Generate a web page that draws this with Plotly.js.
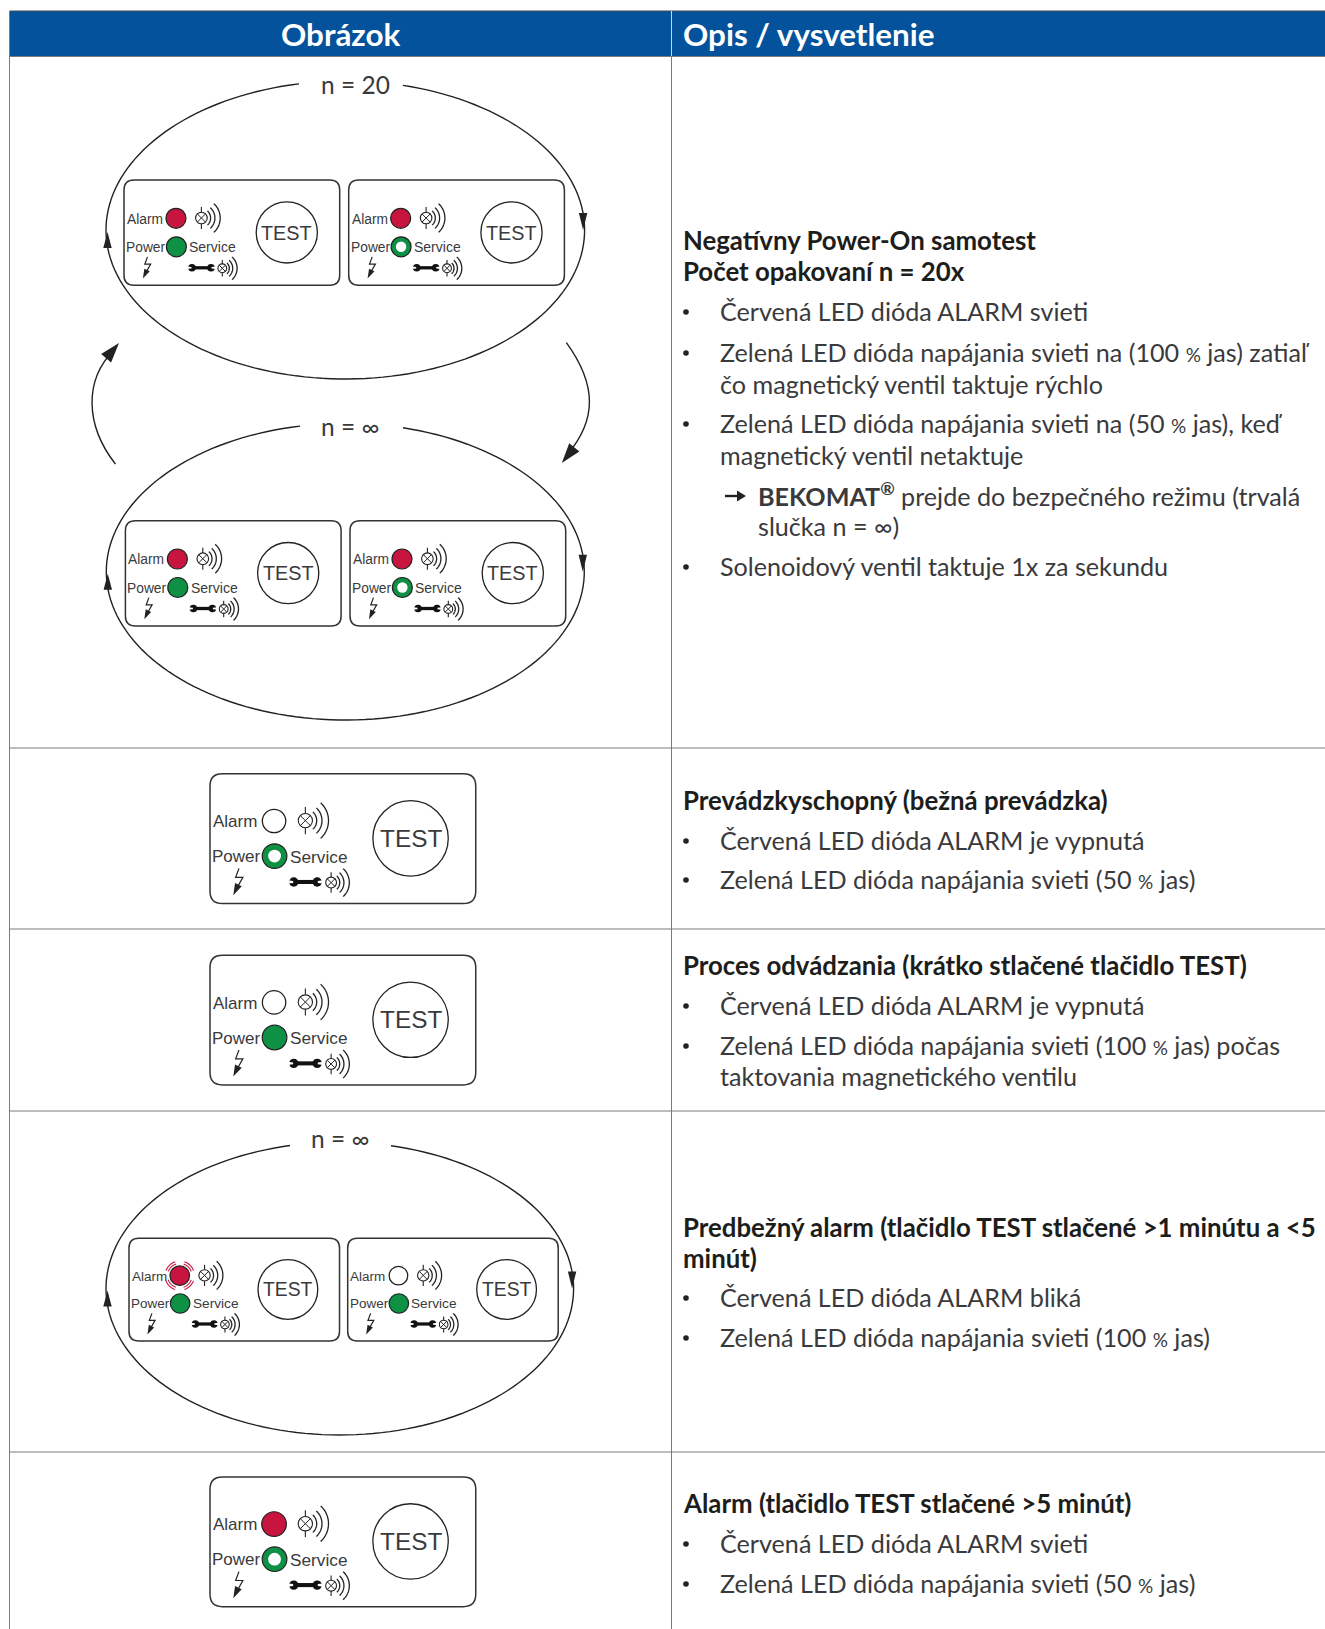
<!DOCTYPE html>
<html><head><meta charset="utf-8">
<script src="https://cdn.plot.ly/plotly-3.0.1.min.js"></script>
<style>html,body{margin:0;padding:0;background:#fff}#c{width:1325px;height:1629px}</style>
</head><body><div id="c"></div>
<script>
// ---- content ----
const headerLabels = ['Obrázok', 'Opis / vysvetlenie'];
const loopLabels = ['n = 20', 'n = ∞', 'n = ∞'];
const headingLines = [
  'Negatívny Power-On samotest', 'Počet opakovaní n = 20x',
  'Prevádzkyschopný (bežná prevádzka)',
  'Proces odvádzania (krátko stlačené tlačidlo TEST)',
  'Predbežný alarm (tlačidlo TEST stlačené &gt;1 minútu a &lt;5', 'minút)',
  'Alarm (tlačidlo TEST stlačené &gt;5 minút)'
];
const PCT = '<span style="font-size:19px">%</span>';
const bodyLines = [
  'Červená LED dióda ALARM svieti',
  'Zelená LED dióda napájania svieti na (100 ' + PCT + ' jas) zatiaľ',
  'čo magnetický ventil taktuje rýchlo',
  'Zelená LED dióda napájania svieti na (50 ' + PCT + ' jas), keď',
  'magnetický ventil netaktuje',
  '<b>BEKOMAT<sup>®</sup></b> prejde do bezpečného režimu (trvalá',
  'slučka n = ∞)',
  'Solenoidový ventil taktuje 1x za sekundu',
  'Červená LED dióda ALARM je vypnutá',
  'Zelená LED dióda napájania svieti (50 ' + PCT + ' jas)',
  'Červená LED dióda ALARM je vypnutá',
  'Zelená LED dióda napájania svieti (100 ' + PCT + ' jas) počas',
  'taktovania magnetického ventilu',
  'Červená LED dióda ALARM bliká',
  'Zelená LED dióda napájania svieti (100 ' + PCT + ' jas)',
  'Červená LED dióda ALARM svieti',
  'Zelená LED dióda napájania svieti (50 ' + PCT + ' jas)'
];
const bodyKinds = ['b','b','c','b','c','a','d','b','b','b','b','b','c','b','b','b','b'];
const alarmStates = ['on','on','on','on','off','off','blink','off','on'];
const powerStates = ['full','half','full','half','half','full','full','full','half'];

// ---- layout (pixels of the 1325x1629 picture) ----
const headingY = [240,271,800,965,1227,1258,1503];
const bodyY = [312,353,385,424,456,496,527,567,841,880,1006,1046,1077,1298,1338,1544,1584];
const rowLinesY = [748,929,1111,1452];
const colX = 671.5, leftX = 9.5, H0 = 11, H1 = 56.5;
const panelX = [124,348.7,125.4,350,210,210,129,347.7,210];
const panelY = [180,180,520.7,520.7,773.8,955.2,1238.3,1238.3,1476.9];
const panelS = [1,1,1,1,1.232,1.232,0.976,0.976,1.232];
const loops = [
  {cx:345.3,cy:230,rx:239.3,ry:149,gap:[299,403],lx:321,ly:84},
  {cx:345.3,cy:571.7,rx:239,ry:148.3,gap:[300,403],lx:321,ly:426},
  {cx:339.8,cy:1288.6,rx:233.8,ry:146.4,gap:[290,391],lx:310.5,ly:1138}
];

const INK='#222222', TXT='#3a3a3c', RED='#c8153f', GREEN='#0e9144', GRID='#7b7b7b', BLUE='#03529b';
const shapes=[], notes=[];
const line=(d,w,c)=>({type:'path',path:d,xref:'x',yref:'y',line:{color:c||INK,width:w},layer:'above'});
const fillP=(d,c)=>({type:'path',path:d,xref:'x',yref:'y',fillcolor:c||INK,line:{width:0},layer:'above'});
const circ=(x,y,r,fill,w,c)=>({type:'circle',xref:'x',yref:'y',x0:x-r,x1:x+r,y0:y-r,y1:y+r,fillcolor:fill||'rgba(0,0,0,0)',line:{color:c||INK,width:w},layer:'above'});
const text=(x,y,t,size,fam,col,anchor)=>notes.push({x,y,text:t,xref:'x',yref:'y',showarrow:false,xanchor:anchor||'left',yanchor:'middle',align:'left',font:{size,family:fam,color:col||TXT},borderpad:0,borderwidth:0});
function arcPath(cx,cy,rx,ry,a0,a1,n){let d='';for(let i=0;i<=n;i++){const a=a0+(a1-a0)*i/n;d+=(i?'L ':'M ')+(cx+rx*Math.cos(a)).toFixed(2)+' '+(cy+ry*Math.sin(a)).toFixed(2)+' ';}return d;}
function arrowHead(tx,ty,fx,fy,len,hw){const dx=tx-fx,dy=ty-fy,m=Math.hypot(dx,dy),ux=dx/m,uy=dy/m;const bx=tx-ux*len,by=ty-uy*len;
  return `M ${tx} ${ty} L ${bx-uy*hw} ${by+ux*hw} L ${bx+uy*hw} ${by-ux*hw} Z`;}

// table
shapes.push({type:'rect',xref:'x',yref:'y',x0:leftX,x1:1325,y0:H0,y1:H1,fillcolor:BLUE,line:{width:0},layer:'below'});
shapes.push(line(`M ${leftX} ${H0} L 1325 ${H0}`,1,'#4a4a4a'));
shapes.push(line(`M ${leftX} ${H0} L ${leftX} 1629`,1,GRID));
shapes.push(line(`M ${colX} ${H1} L ${colX} 1629`,1,GRID));
shapes.push(line(`M ${colX} ${H0} L ${colX} ${H1}`,1,'#c7d6e6'));
shapes.push(line(`M ${leftX} ${H1} L 1325 ${H1}`,1,GRID));
rowLinesY.forEach(y=>shapes.push(line(`M ${leftX} ${y} L 1325 ${y}`,1,GRID)));
text(341,33.5,'<b>'+headerLabels[0]+'</b>',31.4,'Lato','#fff','center');
text(682.5,33.5,'<b>'+headerLabels[1]+'</b>',31.4,'Lato','#fff');

// right-hand text
headingLines.forEach((t,i)=>text(682.5,headingY[i],'<b>'+t+'</b>',25.8,'Lato','#1d1d1b'));
bodyLines.forEach((t,i)=>{
  const k=bodyKinds[i],y=bodyY[i];
  if(k==='b'){shapes.push(circ(686,y,2.8,'#222',0,'#222'));}
  if(k==='a'){shapes.push(line(`M 725 ${y} L 740 ${y}`,2.4,'#222'));shapes.push(fillP(`M 746 ${y} L 737 ${y-5.5} L 737 ${y+5.5} Z`,'#222'));}
  text(k==='b'||k==='c'?720:757.5,k==='a'?y-2:y-1,t,25.15,'Lato',TXT);
});

// loops
loops.forEach((l,i)=>{
  const a=Math.acos((l.gap[0]-l.cx)/l.rx), b=Math.acos((l.gap[1]-l.cx)/l.rx);
  // from the right end of the gap, clockwise round to its left end
  shapes.push(line(arcPath(l.cx,l.cy,l.rx,l.ry,-b,2*Math.PI-a,160),1.4));
  text(l.lx,l.ly,loopLabels[i],24.5,'Lato',TXT);
  const xr=l.cx+l.rx-1.5, xl=l.cx-l.rx+1.5;
  shapes.push(fillP(`M ${xr} ${l.cy} L ${xr-4.2} ${l.cy-17} L ${xr+4.2} ${l.cy-17} Z`));
  shapes.push(fillP(`M ${xl} ${l.cy+2} L ${xl-4.2} ${l.cy+18} L ${xl+4.2} ${l.cy+18} Z`));
});
// side arrows between the two loops
shapes.push(line('M 115.4 464 C 85 425 84 380 114 350',1.4));
shapes.push(fillP(arrowHead(119,343,103,362,20,6.5)));
shapes.push(line('M 566.4 342.7 C 597 385 597 420 567 455',1.4));
shapes.push(fillP(arrowHead(561.8,463,577,444,20,6.5)));

// one control-panel drawing
function lamp(x,y,r,vl,s,arcs){
  shapes.push(circ(x,y,r,'#fff',1.1));
  const d=r*0.7;
  shapes.push(line(`M ${x-d} ${y-d} L ${x+d} ${y+d} M ${x-d} ${y+d} L ${x+d} ${y-d}`,1));
  shapes.push(line(`M ${x} ${y-vl} L ${x} ${y-r} M ${x} ${y+r} L ${x} ${y+vl}`,1.1));
  arcs.forEach(q=>shapes.push(line(arcPath(x,y,q*s,q*s*1.02,-0.85,0.85,20),1.3)));
}
function panel(i){
  const X=panelX[i],Y=panelY[i],s=panelS[i];
  const px=v=>X+v*s, py=v=>Y+v*s;
  const W=215.7*s,H=105.3*s,R=10*s;
  shapes.push(line(`M ${X+R} ${Y} L ${X+W-R} ${Y} Q ${X+W} ${Y} ${X+W} ${Y+R} L ${X+W} ${Y+H-R} Q ${X+W} ${Y+H} ${X+W-R} ${Y+H} L ${X+R} ${Y+H} Q ${X} ${Y+H} ${X} ${Y+H-R} L ${X} ${Y+R} Q ${X} ${Y} ${X+R} ${Y} Z`,1.5,'#333'));
  const fam='Liberation Sans';
  text(px(2.8),py(39),'Alarm',13.8*s,fam);
  text(px(2),py(67.3),'Power',13.8*s,fam);
  text(px(65.3),py(67.3),'Service',14*s,fam);
  text(px(162.8),py(52.5),'TEST',19.8*s,fam,TXT,'center');
  shapes.push(circ(px(162.8),py(52.4),30.6*s,'rgba(0,0,0,0)',1.3));
  // alarm LED
  const ax=px(52),ay=py(38.3),lr=10*s;
  const st=alarmStates[i];
  if(st==='off') shapes.push(circ(ax,ay,lr*0.95,'#fff',1.3));
  else shapes.push(circ(ax,ay,lr,RED,1.2));
  if(st==='blink'){
    [12.5,15].forEach(r=>{[[-1.25,-0.35],[0.35,1.25],[1.9,2.8],[3.5,4.4]].forEach(g=>{
      shapes.push(line(arcPath(ax,ay,r*s,r*s,g[0],g[1],10),1.1,RED));});});
  }
  // power LED
  const pw=powerStates[i],gx=px(52.4),gy=py(66.8);
  shapes.push(circ(gx,gy,lr,GREEN,1.2));
  if(pw==='half') shapes.push(circ(gx,gy,lr*0.52,'#fff',0,'#fff'));
  // lamps
  lamp(px(77.4),py(38),5.8*s,11*s,s,[9.2,13.5,18.8]);
  lamp(px(98.3),py(88.3),4.4*s,8.3*s,s,[7,10.4,14.8]);
  // wrench
  shapes.push(line(`M ${px(68)} ${py(87.8)} L ${px(87)} ${py(87.8)}`,3.3*s,'#111'));
  shapes.push(circ(px(68),py(87.8),3.8*s,'#111',0,'#111'));
  shapes.push(circ(px(87),py(87.8),3.8*s,'#111',0,'#111'));
  shapes.push(fillP(`M ${px(63)} ${py(86.5)} L ${px(67.5)} ${py(87)} L ${px(67.5)} ${py(88.6)} L ${px(63)} ${py(89.1)} Z`,'#fff'));
  shapes.push(fillP(`M ${px(92)} ${py(86.5)} L ${px(87.5)} ${py(87)} L ${px(87.5)} ${py(88.6)} L ${px(92)} ${py(89.1)} Z`,'#fff'));
  // lightning
  shapes.push(line(`M ${px(23.5)} ${py(76.9)} L ${px(20.8)} ${py(84.1)} L ${px(26.7)} ${py(84.1)} L ${px(20.5)} ${py(95)}`,1.2,'#222'));
  shapes.push(fillP(arrowHead(px(18.9),py(98.5),px(24),py(88),9.5*s,3*s),'#222'));
}
alarmStates.forEach((_,i)=>panel(i));

const axis={visible:false,fixedrange:true,showgrid:false,zeroline:false};
Plotly.newPlot('c',[{type:'scatter',x:[0,1325],y:[0,1629],mode:'markers',marker:{opacity:0},hoverinfo:'skip',showlegend:false}],{
  width:1325,height:1629,margin:{l:0,r:0,t:0,b:0},paper_bgcolor:'#fff',plot_bgcolor:'#fff',showlegend:false,
  xaxis:Object.assign({range:[0,1325]},axis),yaxis:Object.assign({range:[1629,0]},axis),
  shapes,annotations:notes
},{displayModeBar:false,staticPlot:true});
</script></body></html>
